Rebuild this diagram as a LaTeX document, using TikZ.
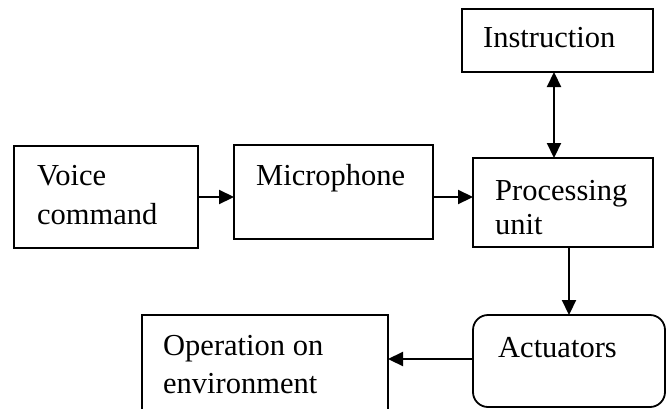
\documentclass[tikz,border=0pt]{standalone}
\usepackage{fontspec}
\setmainfont{Liberation Serif}
\usetikzlibrary{arrows.meta}
\begin{document}
\begin{tikzpicture}[x=1pt,y=-1pt,
  block/.style={draw=black,line width=1.8pt,inner sep=0pt,outer sep=0pt,fill=white},
  txt/.style={anchor=base west,inner sep=0pt,font=\fontsize{30.5}{36}\selectfont},
  arr/.style={line width=2.2pt,-{Triangle[length=15pt,width=14pt]}},
  darr/.style={line width=2.2pt,{Triangle[length=15pt,width=14pt]}-{Triangle[length=15pt,width=14pt]}}]
\useasboundingbox (0,0) rectangle (670,408);
\fill[white] (0,0) rectangle (670,408);

% blocks
\node[block,minimum width=184pt,minimum height=102pt] (voice) at (106,197) {};
\node[block,minimum width=199pt,minimum height=94pt] (mic) at (333.5,192) {};
\node[block,minimum width=180pt,minimum height=89pt] (proc) at (563,202.5) {};
\node[block,minimum width=191pt,minimum height=63pt] (instr) at (557.5,40.5) {};
\node[block,minimum width=246pt,minimum height=97pt] (op) at (265,363.5) {};
\node[block,rounded corners=15pt,minimum width=192pt,minimum height=92pt] (act) at (569,361) {};

% labels
\node[txt] (tvoice) at (37,185) {Voice};
\node[txt] (tcmd) at (37,224) {command};
\node[txt] (tmic) at (256,185) {Microphone};
\node[txt] (tinstr) at (483,47) {Instruction};
\node[txt] (tproc) at (495,200) {Processing};
\node[txt] (tunit) at (495,234) {unit};
\node[txt] (top1) at (163,355) {Operation on};
\node[txt] (top2) at (163,393) {environment};
\node[txt] (tact) at (498,357) {Actuators};

% connectors
\draw[arr] (voice.east |- 0,197) -- (mic.west |- 0,197);
\draw[arr] (mic.east |- 0,197) -- (proc.west |- 0,197);
\draw[darr] (instr.south -| 554,0) -- (proc.north -| 554,0);
\draw[arr] (proc.south -| 569,0) -- (act.north -| 569,0);
\draw[arr] (act.west |- 0,359) -- (op.east |- 0,359);
\end{tikzpicture}
\end{document}
